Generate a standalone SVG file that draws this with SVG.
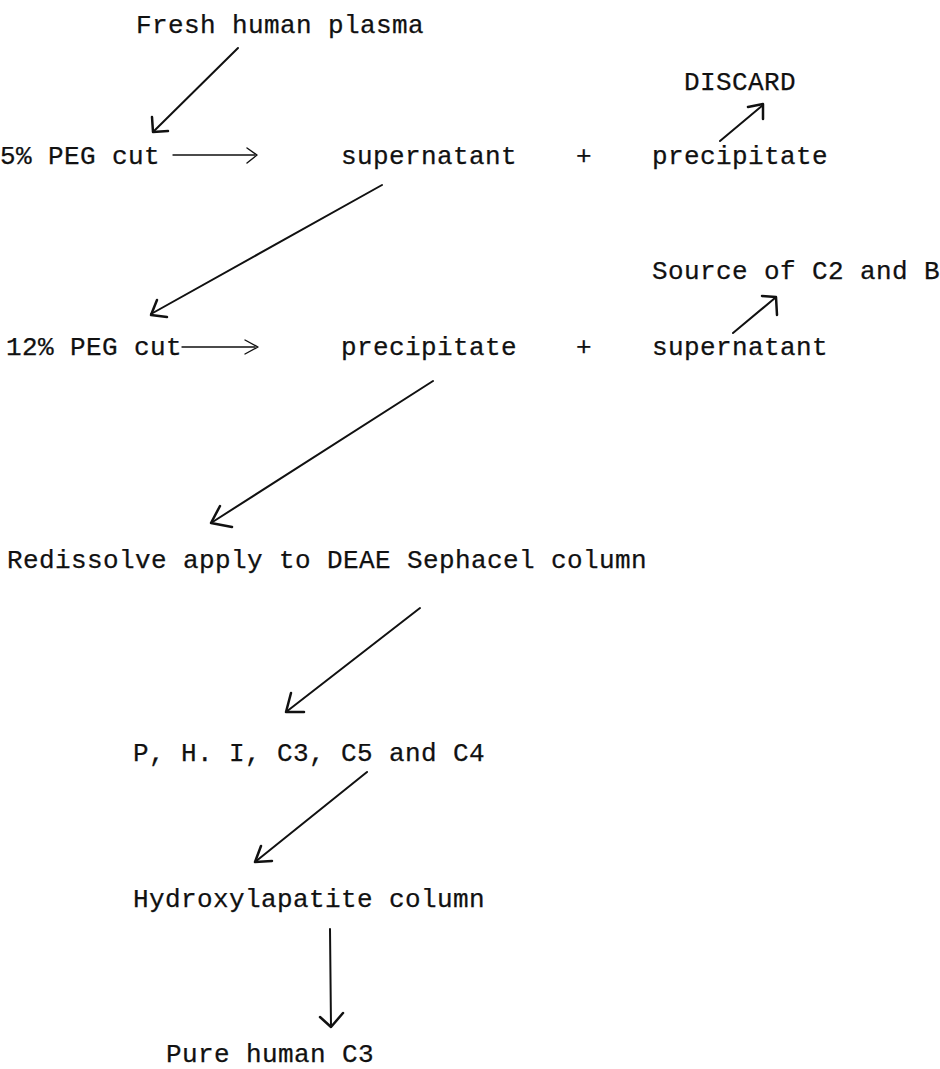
<svg xmlns="http://www.w3.org/2000/svg" width="940" height="1069" viewBox="0 0 940 1069">
<style>
.t{font-family:"Liberation Mono","DejaVu Sans Mono",monospace;font-size:26px;letter-spacing:0.4px;fill:#111;stroke:#111;stroke-width:0.25px}
.ln{stroke:#111;stroke-width:2;fill:none;stroke-linecap:round}
.hd{stroke:#111;stroke-width:2.5;fill:none;stroke-linecap:round;stroke-linejoin:round}
.th{stroke:#111;stroke-width:1.4;fill:none;stroke-linecap:round;stroke-linejoin:round}
</style>
<rect width="940" height="1069" fill="#fff"/>
<g id="n-plasma"><text class="t" x="136" y="33">Fresh human plasma</text></g>
<g id="n-discard"><text class="t" x="684" y="90">DISCARD</text></g>
<g id="n-peg5"><text class="t" x="0" y="164">5% PEG cut</text></g>
<g id="n-super1"><text class="t" x="341" y="164">supernatant</text></g>
<g id="n-plus1"><text class="t" x="576" y="164">+</text></g>
<g id="n-prec1"><text class="t" x="652" y="164">precipitate</text></g>
<g id="n-source"><text class="t" x="652" y="279">Source of C2 and B</text></g>
<g id="n-peg12"><text class="t" x="6" y="355">12% PEG cut</text></g>
<g id="n-prec2"><text class="t" x="341" y="355">precipitate</text></g>
<g id="n-plus2"><text class="t" x="576" y="355">+</text></g>
<g id="n-super2"><text class="t" x="652" y="355">supernatant</text></g>
<g id="n-deae"><text class="t" x="7" y="568">Redissolve apply to DEAE Sephacel column</text></g>
<g id="n-fractions"><text class="t" x="133" y="761">P, H. I, C3, C5 and C4</text></g>
<g id="n-hydroxyl"><text class="t" x="133" y="907">Hydroxylapatite column</text></g>
<g id="n-pure"><text class="t" x="166" y="1062">Pure human C3</text></g>
<g id="connectors">
<line class="ln" x1="238" y1="48" x2="153" y2="132"/>
<path class="hd" d="M152,117 L153,132 L168,131"/>
<line class="th" x1="173" y1="155" x2="255" y2="155"/>
<path class="th" d="M247,148 L257,155 L247,163"/>
<line class="ln" x1="720" y1="141" x2="763" y2="105"/>
<path class="hd" d="M748,107 L763,104 L763,119"/>
<line class="ln" x1="382" y1="185" x2="151" y2="314"/>
<path class="hd" d="M157,300 L151,315 L167,317"/>
<line class="th" x1="182" y1="347" x2="255" y2="347"/>
<path class="th" d="M245,340 L258,347 L245,354"/>
<line class="ln" x1="733" y1="333" x2="775" y2="298"/>
<path class="hd" d="M762,296 L776,297 L777,315"/>
<line class="ln" x1="433" y1="381" x2="211" y2="523"/>
<path class="hd" d="M220,506 L211,523 L232,527"/>
<line class="ln" x1="420" y1="608" x2="286" y2="712"/>
<path class="hd" d="M291,693 L286,712 L304,712"/>
<line class="ln" x1="367" y1="772" x2="255" y2="862"/>
<path class="hd" d="M261,846 L255,862 L272,861"/>
<line class="ln" x1="330" y1="929" x2="331" y2="1027"/>
<path class="hd" d="M320,1017 L331,1027 L343,1013"/>
</g>
</svg>
